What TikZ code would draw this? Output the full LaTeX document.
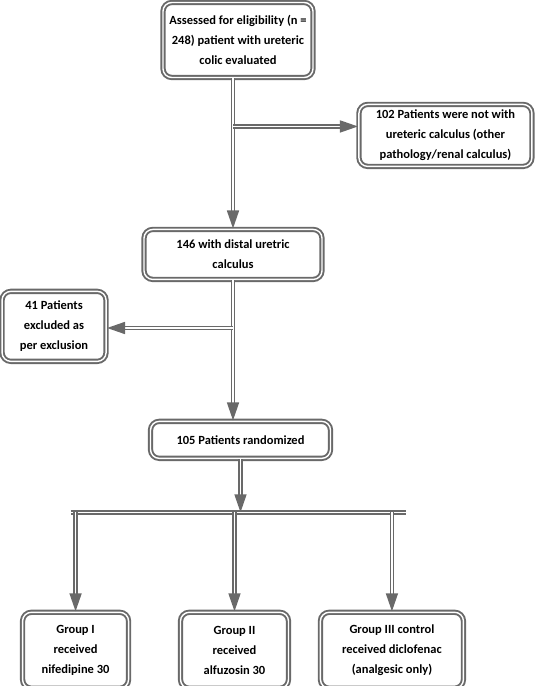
\documentclass[tikz,border=0pt]{standalone}
\usepackage{fontspec}
\setmainfont{Carlito}
\usepackage{tikz}
\usetikzlibrary{calc}
\usetikzlibrary{positioning}
\usetikzlibrary{arrows.meta}
\definecolor{boxgray}{RGB}{105,105,105}
\tikzstyle{flowbox} = [rectangle, rounded corners=5pt,
    align=center,
    draw=boxgray,
    line width=1.1pt,
    double=white,
    double distance=0.8pt,
    fill=white,
    font=\fontsize{7.1}{11.3}\selectfont\bfseries,
    inner sep=2pt]
\tikzstyle{dlarrow} = [draw=boxgray, line width=0.9pt, double=white, double distance=0.9pt,
    -{Triangle[length=3.6mm,width=2.4mm]}]
\tikzstyle{dlline} = [draw=boxgray, line width=0.9pt, double=white, double distance=0.9pt]

\begin{document}
\begin{tikzpicture}[node distance=1cm]
\useasboundingbox (0,0) rectangle (10.74,-13.72);

\node (elig) [flowbox, minimum width=3cm, minimum height=1.5cm] at (4.76,-0.8)
  {Assessed for eligibility (n =\\ 248) patient with ureteric\\ colic evaluated};

\node (notwith) [flowbox, minimum width=3.46cm, minimum height=1.24cm, below right=0.5cm and 0.88cm of elig]
  {102 Patients were not with\\ ureteric calculus (other\\ pathology/renal calculus)};

\node (dist) [flowbox, minimum width=3.56cm, minimum height=1cm, below=3cm of elig, xshift=-0.1cm]
  {146 with distal uretric\\ calculus};

\node (excl) [flowbox, minimum width=2.08cm, minimum height=1.4cm, below left=0.2cm and 0.72cm of dist]
  {41 Patients\\ excluded as\\ per exclusion};

\node (rand) [flowbox, minimum width=3.6cm, minimum height=0.74cm, below=2.8cm of dist, xshift=0.15cm]
  {105 Patients randomized};

\node (g2) [flowbox, minimum width=2.16cm, minimum height=1.52cm, below=3.04cm of rand, xshift=-0.12cm]
  {Group II\\ received\\ alfuzosin 30};
\node (g1) [flowbox, minimum width=2.12cm, minimum height=1.52cm, left=1cm of g2]
  {Group I\\ received\\ nifedipine 30};
\node (g3) [flowbox, minimum width=2.86cm, minimum height=1.52cm, right=0.6cm of g2]
  {Group III control\\ received diclofenac\\ (analgesic only)};

%\node (split) below rand
\coordinate (b1) at ($(elig.south)!0.32!(dist.north)$);
\coordinate (b2) at ($(dist.south)!0.34!(rand.north)$);
\coordinate (split) at ($(rand.south)+(0,-1.06)$);

\draw [dlarrow] (elig.south -| dist) -- (dist);
\draw [dlarrow] (b1 -| dist) -- (b1 -| notwith.west);
\draw [dlarrow] (dist) -- (dist |- rand.north);
\draw [dlarrow] (b2 -| dist) -- (b2 -| excl.east);
\draw [dlarrow] (rand) -- (split);
\draw [dlline] ($(split -| g1)+(-0.1,0)$) -- ($(split -| g3)+(0.28,0)$);
\draw [dlarrow] (split -| g1) -- (g1);
\draw [dlarrow] (split -| g2) -- (g2);
\draw [dlarrow] (split -| g3) -- (g3);

\end{tikzpicture}
\end{document}
